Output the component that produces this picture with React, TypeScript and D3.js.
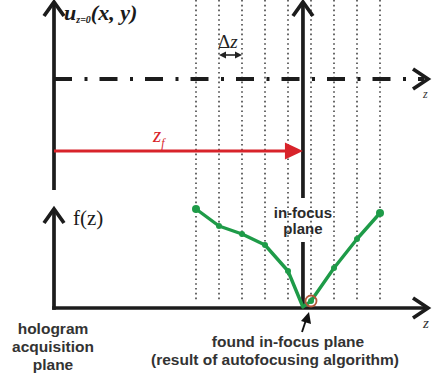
import React from "react";
import * as d3 from "d3";

// sampling planes (index in units of Δz)
const planeIdx = [0, 1, 2, 3, 4, 5, 6, 7, 8];
// focus curve samples: z index and f(z) value
const curveZ = [0, 1, 2, 3, 4, 4.65, 5, 6, 7, 8];
const curveF = [99, 82, 74, 63, 37, 1, 7, 40, 69, 95];
const dotZ = [0, 1, 2, 3, 4, 5, 6, 7, 8];
const dotF = [99, 82, 74, 63, 37, 7, 40, 69, 95];
const trueFocusZ = 4.65;
const foundFocus = { z: 5, f: 7 };

const bottomLabel = ["hologram", "acquisition", "plane"];
const foundLabel = ["found in-focus plane", "(result of autofocusing algorithm)"];
const inFocusLabel = ["in-focus", "plane"];

const W = 432;
const H = 377;

export default function App() {
  const x = d3.scaleLinear().domain([0, 8]).range([196, 380]);
  const y = d3.scaleLinear().domain([0, 100]).range([308, 208]);
  const axisX = 54;
  const dashY = 79;
  const redY = 151;
  const baseY = 308;
  const axisColor = "#1c1c1c";
  const red = "#d8232a";
  const green = "#1e9b48";
  const sans = "'Liberation Sans', Arial, sans-serif";
  const serif = "'Liberation Serif', 'Times New Roman', serif";

  const line = d3
    .line<number>()
    .x((_, i) => x(curveZ[i]))
    .y((d) => y(d))
    .curve(d3.curveLinear);

  const fx = x(trueFocusZ);

  const chevronUp = (cx: number, ty: number) =>
    `M${cx - 10},${ty + 14} L${cx},${ty} L${cx + 10},${ty + 14}`;
  const chevronRight = (tx: number, cy: number) =>
    `M${tx - 15},${cy - 10} L${tx},${cy} L${tx - 15},${cy + 10}`;

  return (
    <svg
      width={W}
      height={H}
      style={{ position: "absolute", left: 0, top: 0, background: "#fff" }}
    >
      <rect x={0} y={0} width={W} height={H} fill="#fff" />
      {/* dotted sampling planes */}
      {planeIdx.map((i) => (
        <line
          key={i}
          x1={x(i)}
          x2={x(i)}
          y1={0}
          y2={302}
          stroke="#444"
          strokeWidth={1.6}
          strokeDasharray="1.6,3.2"
        />
      ))}

      {/* upper left axis */}
      <line x1={axisX} x2={axisX} y1={3} y2={190} stroke={axisColor} strokeWidth={3.7} />
      <path d={chevronUp(axisX, 2)} fill="none" stroke={axisColor} strokeWidth={3.7} />

      {/* dash-dot propagation axis */}
      <line
        x1={axisX}
        x2={424}
        y1={dashY}
        y2={dashY}
        stroke={axisColor}
        strokeWidth={3.8}
        strokeDasharray="18,12.5,3,12"
      />
      <path d={chevronRight(428, dashY)} fill="none" stroke={axisColor} strokeWidth={3.7} />

      {/* in-focus solid vertical */}
      <line x1={fx} x2={fx} y1={3} y2={198} stroke={axisColor} strokeWidth={3.7} />
      <path d={chevronUp(fx, 2)} fill="none" stroke={axisColor} strokeWidth={3.7} />
      <line x1={fx} x2={fx} y1={242} y2={baseY} stroke={axisColor} strokeWidth={3.7} />

      {/* red z_f arrow */}
      <line x1={axisX} x2={fx - 16} y1={redY} y2={redY} stroke={red} strokeWidth={2.8} />
      <path
        d={`M${fx - 18},${redY - 8.5} L${fx},${redY} L${fx - 18},${redY + 8.5} Z`}
        fill={red}
      />
      <text x={153} y={142} fontFamily={serif} fontStyle="italic" fontSize={21} fill={red}>
        z
        <tspan fontSize={12} dy={5}>f</tspan>
      </text>

      {/* Δz */}
      <text x={218} y={48} fontFamily={serif} fontStyle="italic" fontSize={19} fill="#222">
        <tspan fontStyle="normal">Δ</tspan>z
      </text>
      <line x1={223} x2={238} y1={55} y2={55} stroke="#222" strokeWidth={1.6} />
      <path d="M219,55 L226,51.5 L226,58.5 Z M242,55 L235,51.5 L235,58.5 Z" fill="#222" />

      {/* top label */}
      <text
        x={64}
        y={20}
        fontFamily={serif}
        fontStyle="italic"
        fontWeight="bold"
        fontSize={22}
        fill="#1a1a1a"
      >
        u
        <tspan fontSize={10} dy={3}>z=0</tspan>
        <tspan dy={-3}>(x, y)</tspan>
      </text>

      {/* lower axes */}
      <line x1={axisX} x2={axisX} y1={210} y2={baseY + 1.8} stroke={axisColor} strokeWidth={3.7} />
      <path d={chevronUp(axisX, 209)} fill="none" stroke={axisColor} strokeWidth={3.7} />
      <line x1={axisX - 1.8} x2={426} y1={baseY} y2={baseY} stroke={axisColor} strokeWidth={3.7} />
      <path d={chevronRight(428, baseY)} fill="none" stroke={axisColor} strokeWidth={3.7} />
      <text x={73} y={225} fontFamily={serif} fontSize={21} fill="#1a1a1a">
        f(z)
      </text>
      <text x={423} y={328} fontFamily={serif} fontStyle="italic" fontSize={15} fill="#333">
        z
      </text>
      <text x={423} y={98} fontFamily={serif} fontStyle="italic" fontSize={12} fill="#333">
        z
      </text>

      {/* focus curve */}
      <path d={line(curveF) || ""} fill="none" stroke={green} strokeWidth={3.4} strokeLinejoin="round" />
      {dotZ.map((z, i) => (
        <circle key={i} cx={x(z)} cy={y(dotF[i])} r={i === 0 || i === dotZ.length - 1 ? 4 : 3} fill={green} />
      ))}
      <circle
        cx={x(foundFocus.z)}
        cy={y(foundFocus.f)}
        r={5.5}
        fill="none"
        stroke="#b4583a"
        strokeWidth={1.8}
      />

      {/* in-focus label */}
      {inFocusLabel.map((t, i) => (
        <text
          key={t}
          x={fx}
          y={218 + i * 16}
          textAnchor="middle"
          fontFamily={sans}
          fontWeight="bold"
          fontSize={15}
          fill="#2a2a2a"
        >
          {t}
        </text>
      ))}

      {/* found arrow */}
      <line x1={302} x2={306} y1={332} y2={320} stroke="#111" strokeWidth={1.9} />
      <path d="M309,312 L301,321 L311,324 Z" fill="#111" />

      {/* bottom labels */}
      {bottomLabel.map((t, i) => (
        <text
          key={t}
          x={53}
          y={334 + i * 18}
          textAnchor="middle"
          fontFamily={sans}
          fontWeight="bold"
          fontSize={15.5}
          fill="#333"
        >
          {t}
        </text>
      ))}
      {foundLabel.map((t, i) => (
        <text
          key={t}
          x={i === 0 ? 288 : 275}
          y={347 + i * 18}
          textAnchor="middle"
          fontFamily={sans}
          fontWeight="bold"
          fontSize={15.5}
          fill="#333"
        >
          {t}
        </text>
      ))}
    </svg>
  );
}
